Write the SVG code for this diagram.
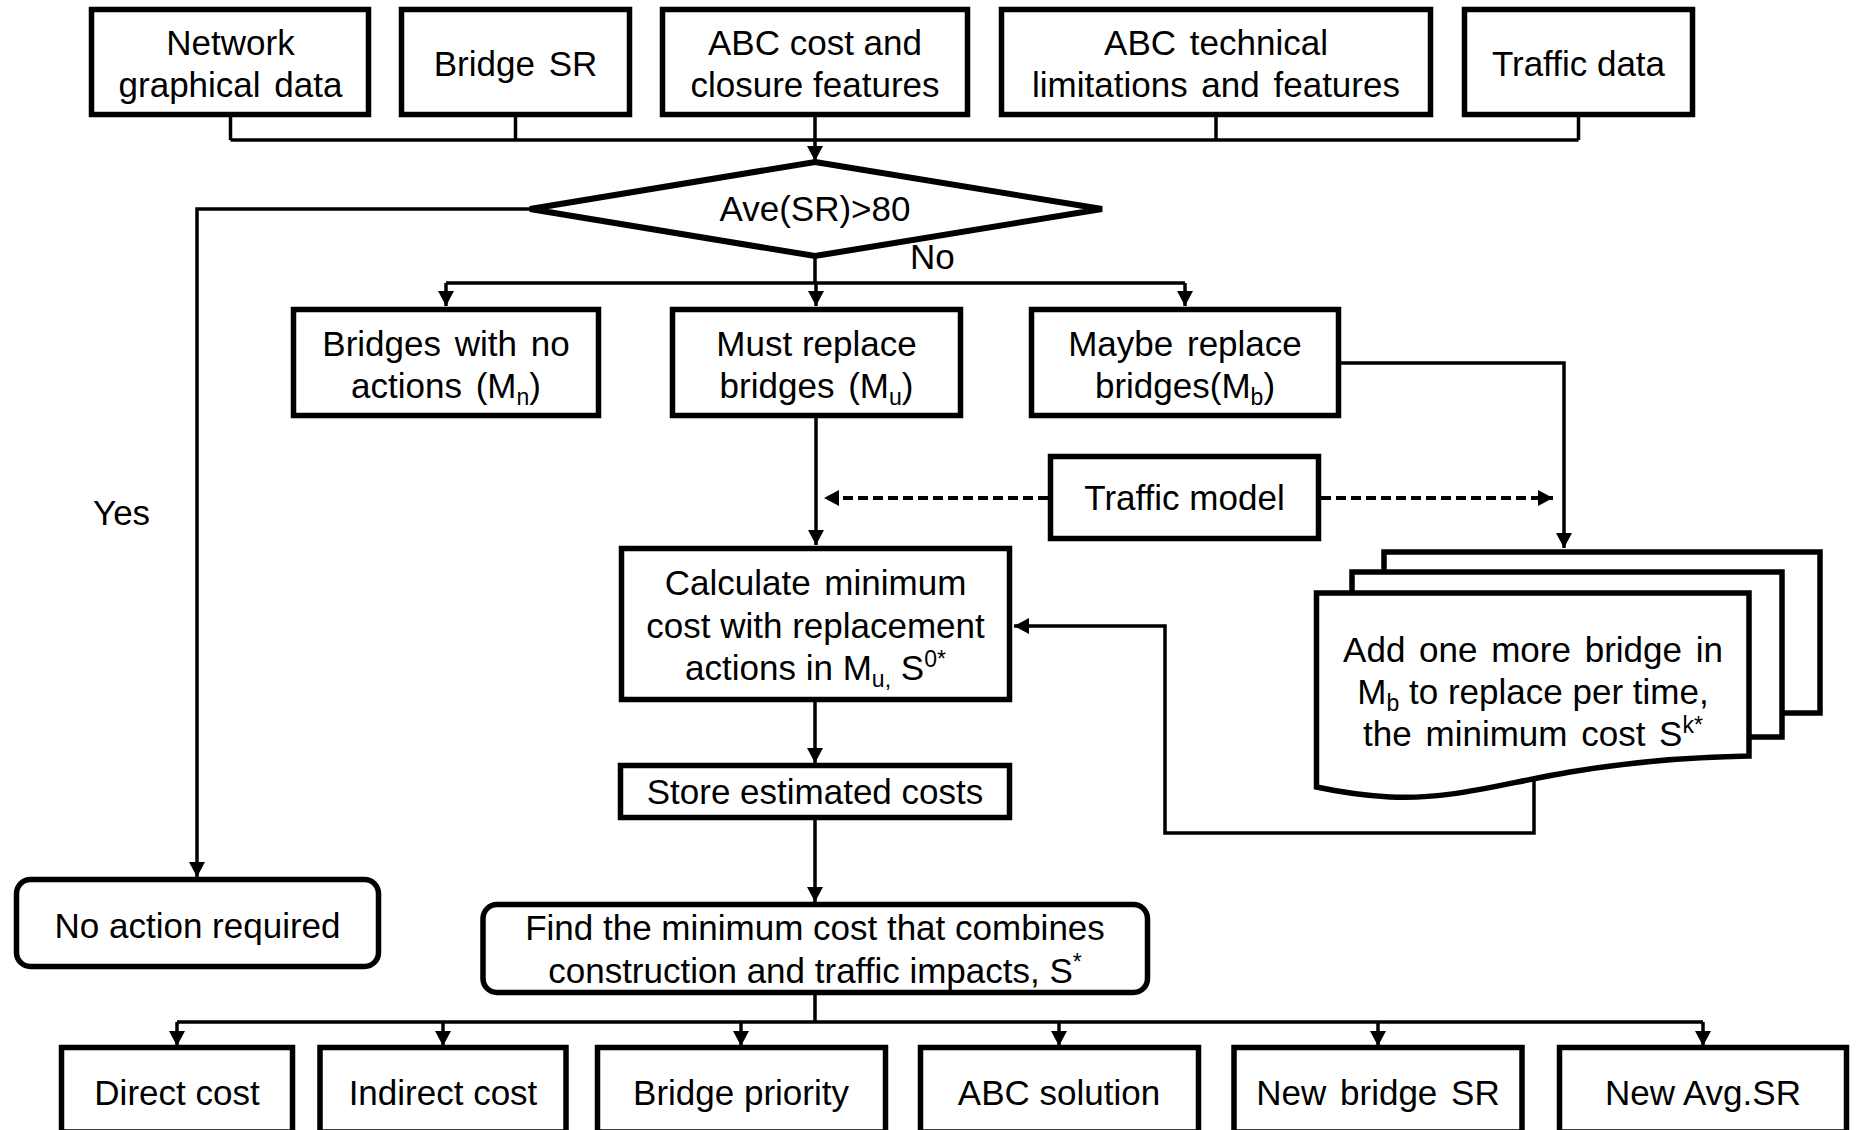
<svg xmlns="http://www.w3.org/2000/svg" width="1858" height="1130" viewBox="0 0 1858 1130">
  <style>
    .box { fill: #ffffff; stroke: #000000; stroke-width: 5.5; stroke-linejoin: miter; }
    .dec { fill: #ffffff; stroke: #000000; stroke-width: 6; stroke-linejoin: miter; }
    .conn { fill: none; stroke: #000000; stroke-width: 3.5; }
    .dash { fill: none; stroke: #000000; stroke-width: 4; stroke-dasharray: 10 5; }
    text { font-family: "Liberation Sans", Arial, sans-serif; font-size: 35px; fill: #000000; text-anchor: middle; }
    .wide { word-spacing: 4px; }
    .lbl { text-anchor: start; }
    .sub { font-size: 23px; }
  </style>
  <defs>
    <marker id="arrow" viewBox="0 0 15 16" refX="15" refY="8" markerWidth="15" markerHeight="16" markerUnits="userSpaceOnUse" orient="auto">
      <path d="M0,0 L15,8 L0,16 Z" fill="#000000"/>
    </marker>
  </defs>
  <rect width="1858" height="1130" fill="#ffffff"/>

  <!-- connectors -->
  <g id="connectors">
    <!-- input bus into the decision -->
    <path class="conn" d="M230.5,117 V140 M515.5,117 V140 M1216,117 V140 M1578.5,117 V140 M230.5,140 H1578.5"/>
    <path class="conn" d="M815,117 V161" marker-end="url(#arrow)"/>
    <!-- Yes branch -->
    <path class="conn" d="M530,209 H197 V877" marker-end="url(#arrow)"/>
    <!-- No branch -->
    <path class="conn" d="M815,256 V283 M446,283 H1185"/>
    <path class="conn" d="M446,283 V306" marker-end="url(#arrow)"/>
    <path class="conn" d="M816,283 V306" marker-end="url(#arrow)"/>
    <path class="conn" d="M1185,283 V306" marker-end="url(#arrow)"/>
    <!-- Must replace to calculation -->
    <path class="conn" d="M816,418 V545" marker-end="url(#arrow)"/>
    <!-- Maybe replace to iterative documents -->
    <path class="conn" d="M1341,363 H1564 V548" marker-end="url(#arrow)"/>
    <!-- traffic model feeds -->
    <path class="dash" d="M1048,498 H824" marker-end="url(#arrow)"/>
    <path class="dash" d="M1321,498 H1553" marker-end="url(#arrow)"/>
    <!-- feedback loop -->
    <path class="conn" d="M1534,770 V833 H1165 V626 H1014" marker-end="url(#arrow)"/>
    <!-- main chain -->
    <path class="conn" d="M815,702 V763" marker-end="url(#arrow)"/>
    <path class="conn" d="M815,820 V902" marker-end="url(#arrow)"/>
    <!-- output bus -->
    <path class="conn" d="M815,995 V1022 M177,1022 H1703"/>
    <path class="conn" d="M177,1022 V1046" marker-end="url(#arrow)"/>
    <path class="conn" d="M443,1022 V1046" marker-end="url(#arrow)"/>
    <path class="conn" d="M741,1022 V1046" marker-end="url(#arrow)"/>
    <path class="conn" d="M1059,1022 V1046" marker-end="url(#arrow)"/>
    <path class="conn" d="M1378,1022 V1046" marker-end="url(#arrow)"/>
    <path class="conn" d="M1703,1022 V1046" marker-end="url(#arrow)"/>
  </g>

  <!-- inputs -->
  <g id="network-data">
    <rect class="box" x="91.5" y="9.5" width="277" height="105"/>
    <text x="230.5" y="55">Network</text>
    <text class="wide" x="230.5" y="97">graphical data</text>
  </g>
  <g id="bridge-sr">
    <rect class="box" x="401.5" y="9.5" width="228" height="105"/>
    <text class="wide" x="515.5" y="76">Bridge SR</text>
  </g>
  <g id="abc-cost">
    <rect class="box" x="662.5" y="9.5" width="305" height="105"/>
    <text x="815" y="55">ABC cost and</text>
    <text x="815" y="97">closure features</text>
  </g>
  <g id="abc-technical">
    <rect class="box" x="1001.5" y="9.5" width="429" height="105"/>
    <text class="wide" x="1216" y="55">ABC technical</text>
    <text class="wide" x="1216" y="97">limitations and features</text>
  </g>
  <g id="traffic-data">
    <rect class="box" x="1464.5" y="9.5" width="228" height="105"/>
    <text x="1578.5" y="76">Traffic data</text>
  </g>

  <!-- decision -->
  <g id="decision">
    <polygon class="dec" points="815,162 1102,209 815,256 530,209"/>
    <text x="815" y="221">Ave(SR)&gt;80</text>
  </g>
  <text class="lbl" x="910" y="269">No</text>
  <text class="lbl" x="93" y="525">Yes</text>

  <!-- classification -->
  <g id="no-action-bridges">
    <rect class="box" x="293.5" y="309.5" width="305" height="106"/>
    <text class="wide" x="446" y="356">Bridges with no</text>
    <text class="wide" x="446" y="398">actions (M<tspan class="sub" dy="7">n</tspan><tspan dy="-7">)</tspan></text>
  </g>
  <g id="must-replace">
    <rect class="box" x="672.5" y="309.5" width="288" height="106"/>
    <text x="816.5" y="356">Must replace</text>
    <text class="wide" x="816.5" y="398">bridges (M<tspan class="sub" dy="7">u</tspan><tspan dy="-7">)</tspan></text>
  </g>
  <g id="maybe-replace">
    <rect class="box" x="1031.5" y="309.5" width="307" height="106"/>
    <text class="wide" x="1185" y="356">Maybe replace</text>
    <text x="1185" y="398">bridges(M<tspan class="sub" dy="7">b</tspan><tspan dy="-7">)</tspan></text>
  </g>

  <g id="traffic-model">
    <rect class="box" x="1050.5" y="456.5" width="268" height="82"/>
    <text x="1184.5" y="510">Traffic model</text>
  </g>

  <g id="calculate">
    <rect class="box" x="621.5" y="548.5" width="388" height="151"/>
    <text class="wide" x="815.5" y="595">Calculate minimum</text>
    <text x="815.5" y="638">cost with replacement</text>
    <text x="815.5" y="680">actions in M<tspan class="sub" dy="7">u,</tspan><tspan dy="-7"> S</tspan><tspan class="sub" dy="-13">0*</tspan></text>
  </g>

  <!-- stacked documents for the iterative step -->
  <g id="add-bridge">
    <rect class="box" x="1384" y="552" width="436" height="161"/>
    <rect class="box" x="1352" y="572" width="430" height="165"/>
    <path class="box" d="M1316.5,593 H1749 V756 C1690,757 1630,762 1570,772 C1500,784 1450,800 1390,797 C1355,795 1335,791 1316.5,787 Z"/>
    <text class="wide" x="1533" y="662">Add one more bridge in</text>
    <text x="1533" y="704">M<tspan class="sub" dy="7">b</tspan><tspan dy="-7"> to replace per time,</tspan></text>
    <text class="wide" x="1533" y="746">the minimum cost S<tspan class="sub" dy="-13">k*</tspan></text>
  </g>

  <g id="store-costs">
    <rect class="box" x="620.5" y="765.5" width="389" height="52"/>
    <text x="815" y="804">Store estimated costs</text>
  </g>

  <g id="no-action-required">
    <rect class="box" x="16.5" y="879.5" width="362" height="87" rx="14" ry="14"/>
    <text x="197.5" y="938">No action required</text>
  </g>

  <g id="find-minimum">
    <rect class="box" x="483" y="904.5" width="664.5" height="88" rx="14" ry="14"/>
    <text x="815" y="940">Find the minimum cost that combines</text>
    <text x="815" y="983">construction and traffic impacts, S<tspan class="sub" dy="-13">*</tspan></text>
  </g>

  <!-- outputs -->
  <g id="direct-cost">
    <rect class="box" x="61.5" y="1047.5" width="231" height="84.5"/>
    <text x="177" y="1105">Direct cost</text>
  </g>
  <g id="indirect-cost">
    <rect class="box" x="320" y="1047.5" width="246" height="84.5"/>
    <text x="443" y="1105">Indirect cost</text>
  </g>
  <g id="bridge-priority">
    <rect class="box" x="597.5" y="1047.5" width="288" height="84.5"/>
    <text x="741" y="1105">Bridge priority</text>
  </g>
  <g id="abc-solution">
    <rect class="box" x="920.5" y="1047.5" width="278" height="84.5"/>
    <text x="1059" y="1105">ABC solution</text>
  </g>
  <g id="new-bridge-sr">
    <rect class="box" x="1234" y="1047.5" width="288" height="84.5"/>
    <text class="wide" x="1378" y="1105">New bridge SR</text>
  </g>
  <g id="new-avg-sr">
    <rect class="box" x="1559.5" y="1047.5" width="287" height="84.5"/>
    <text x="1703" y="1105">New Avg.SR</text>
  </g>
</svg>
